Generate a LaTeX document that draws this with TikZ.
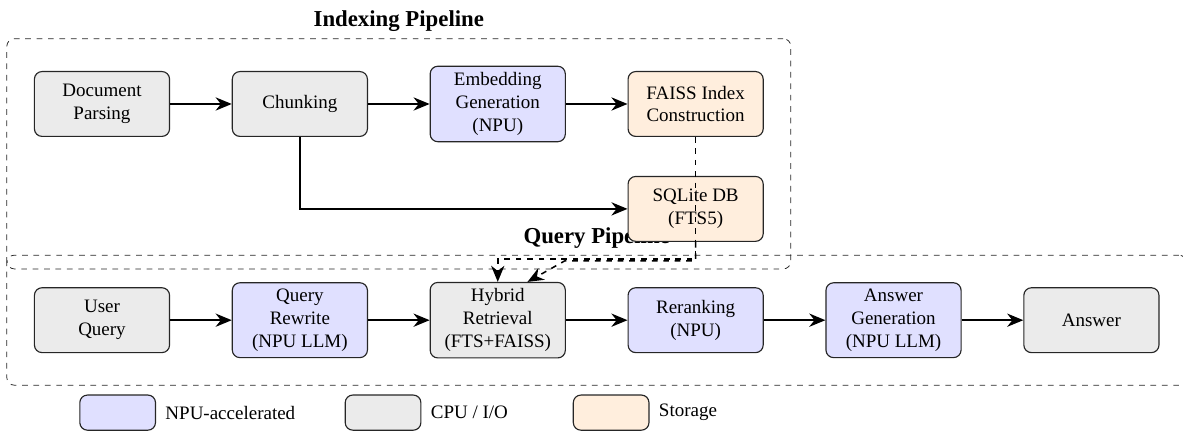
\documentclass[tikz,border=0pt]{standalone}
\usepackage{fontspec}
\setmainfont{Liberation Serif}
\usetikzlibrary{positioning,fit,backgrounds,arrows.meta}
\definecolor{npu}{HTML}{E0E0FF}
\definecolor{cpu}{HTML}{EBEBEB}
\definecolor{store}{HTML}{FFEEDD}
\tikzset{
  stage/.style={draw=black!85, semithick, rounded corners=4pt, minimum width=2.5cm,
    minimum height=1.2cm, align=center},
  flow/.style={thick, -{Stealth[length=8.5pt,width=7pt]}},
  link/.style={flow, dashed},
  group/.style={draw=black!85, dashed, rounded corners=4pt, inner sep=0.5cm},
  title/.style={font=\large\bfseries},
  legbox/.style={draw=black!85, semithick, rounded corners=4pt, minimum width=1.4cm,
    minimum height=0.65cm}
}
\begin{document}
\begin{tikzpicture}[node distance=1.14cm]
\useasboundingbox (-1.887,1.924) rectangle (20.0,-6.068);
\node[stage,fill=cpu] (doc) at (0,0) {Document\\Parsing};
\node[stage,fill=cpu,right=of doc] (chunk) {Chunking};
\node[stage,fill=npu,right=of chunk] (embed) {Embedding\\Generation\\(NPU)};
\node[stage,fill=store,right=of embed] (faiss) {FAISS Index\\Construction};
\node[stage,fill=store,below=0.72cm of faiss] (sqlite) {SQLite DB\\(FTS5)};

\node[stage,fill=cpu] (user) at (0,-4.0) {User\\Query};
\node[stage,fill=npu,right=of user] (rewrite) {Query\\Rewrite\\(NPU LLM)};
\node[stage,fill=cpu,right=of rewrite] (hybrid) {Hybrid\\Retrieval\\(FTS+FAISS)};
\node[stage,fill=npu,right=of hybrid] (rerank) {Reranking\\(NPU)};
\node[stage,fill=npu,right=of rerank] (gen) {Answer\\Generation\\(NPU LLM)};
\node[stage,fill=cpu,right=of gen] (answer) {Answer};

\begin{pgfonlayer}{background}
\node[group,fit=(doc)(embed)(faiss)(sqlite),label={[title]above:Indexing Pipeline}] (index) {};
\node[group,fit=(user)(rewrite)(answer),label={[title]above:Query Pipeline}] (query) {};
\end{pgfonlayer}

\draw[flow] (doc) -- (chunk);
\draw[flow] (chunk) -- (embed);
\draw[flow] (embed) -- (faiss);
\draw[flow] (chunk.south) |- (sqlite.west);
\draw[link] (faiss.south) -- ++(0,-2.26) -| (hybrid.north);
\draw[link] (sqlite.south) -- ++(0,-0.35) -- ++(-2.42,0) -- ([xshift=0.55cm]hybrid.north);

\draw[flow] (user) -- (rewrite);
\draw[flow] (rewrite) -- (hybrid);
\draw[flow] (hybrid) -- (rerank);
\draw[flow] (rerank) -- (gen);
\draw[flow] (gen) -- (answer);

\node[legbox,fill=npu] (lnpu) at (0.29,-5.71) {};
\node[right=0.05cm of lnpu] (tnpu) {NPU-accelerated};
\node[legbox,fill=cpu] (lcpu) at (5.2,-5.71) {};
\node[right=0.05cm of lcpu] (tcpu) {CPU / I/O};
\node[legbox,fill=store] (lstore) at (9.42,-5.71) {};
\node[right=0.05cm of lstore] (tstore) {Storage};
\end{tikzpicture}
\end{document}
